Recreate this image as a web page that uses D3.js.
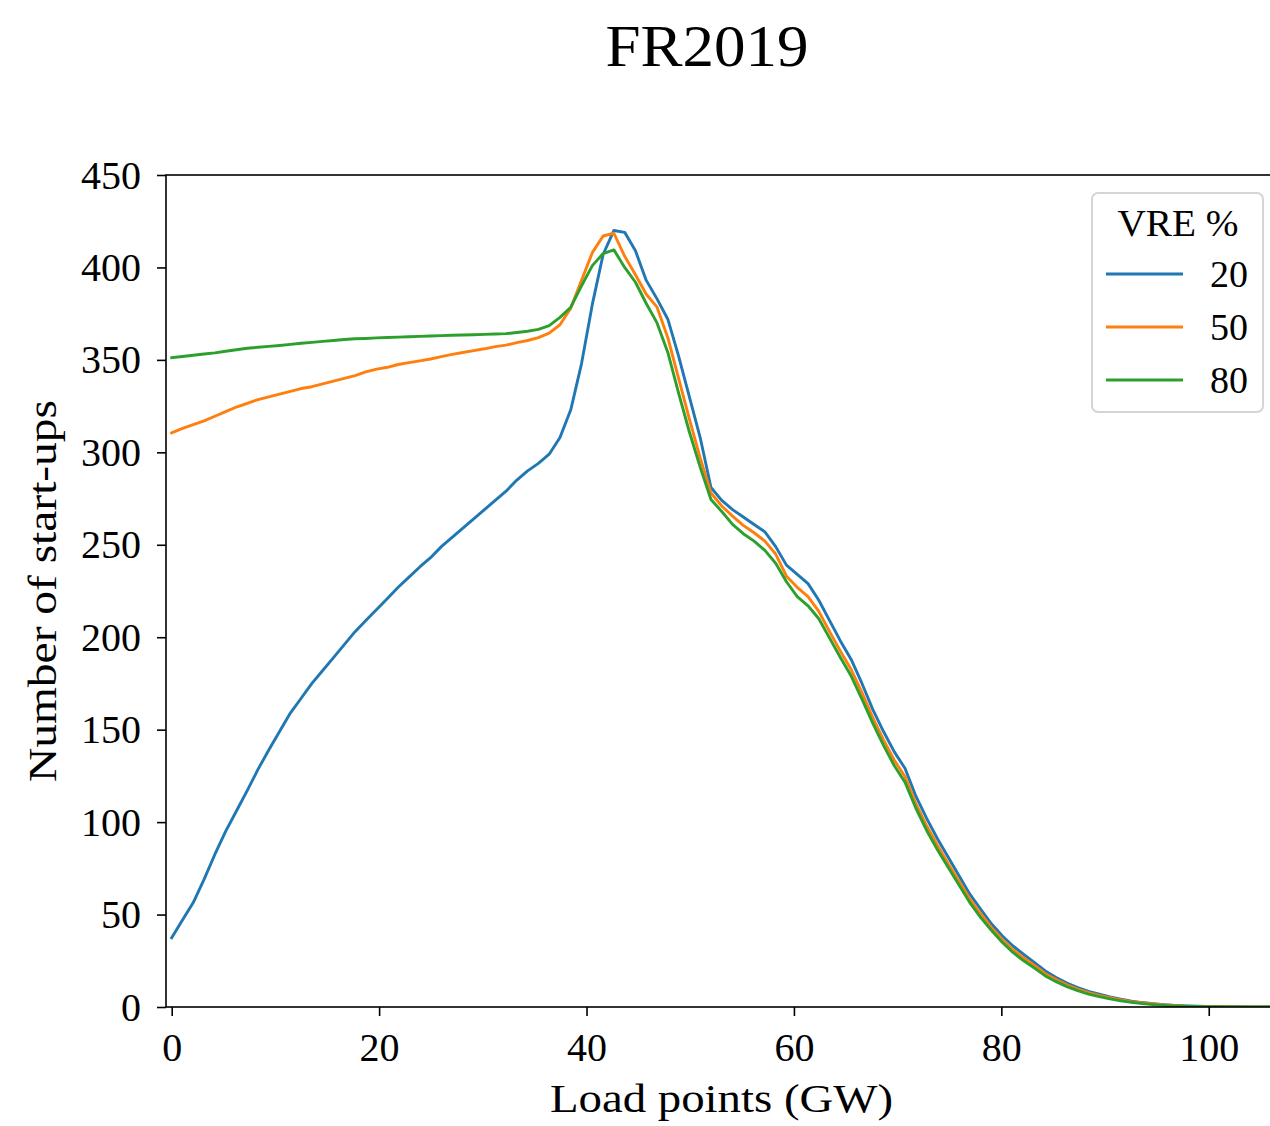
<!DOCTYPE html>
<html>
<head>
<meta charset="utf-8">
<script src="https://cdn.jsdelivr.net/npm/d3@7"></script>
<style>
  html, body { margin: 0; padding: 0; background: #fff; }
  svg { display: block; }
  text { font-family: "Liberation Serif", "DejaVu Serif", serif; fill: #000; }
</style>
</head>
<body>
<script>
// Load points (GW) at which start-ups were counted
const loadPoints = [
  0, 1.04, 2.08, 3.12, 4.16, 5.2, 6.24, 7.28, 8.32, 9.36,
  10.4, 11.44, 12.48, 13.52, 14.56, 15.6, 16.64, 17.68, 18.72, 19.76,
  20.8, 21.84, 22.88, 23.92, 24.96, 26, 27.04, 28.08, 29.12, 30.16,
  31.2, 32.24, 33.28, 34.32, 35.36, 36.4, 37.44, 38.48, 39.52, 40.56,
  41.6, 42.64, 43.68, 44.72, 45.76, 46.8, 47.84, 48.88, 49.92, 50.96,
  52, 53.04, 54.08, 55.12, 56.16, 57.2, 58.24, 59.28, 60.32, 61.36,
  62.4, 63.44, 64.48, 65.52, 66.56, 67.6, 68.64, 69.68, 70.72, 71.76,
  72.8, 73.84, 74.88, 75.92, 76.96, 78, 79.04, 80.08, 81.12, 82.16,
  83.2, 84.24, 85.28, 86.32, 87.36, 88.4, 89.44, 90.48, 91.52, 92.56,
  93.6, 94.64, 95.68, 96.72, 97.76, 98.8, 99.84, 100.88, 101.92, 102.96,
  104, 105.04, 106.08
];

// Start-ups per load point, VRE share 20 %
const vre20 = [
  37.5, 47, 56.5, 69, 82.5, 95, 106, 117, 128.5, 139,
  149, 159, 167, 175, 182, 189, 196, 203, 209, 215,
  221, 227, 232.5, 238, 243, 249, 254, 259, 264, 269,
  274, 279, 285, 290, 294, 299, 308, 323, 348, 380,
  407, 420, 419, 409, 393, 383, 372, 352, 330, 308,
  281, 274, 269, 265, 261, 257, 249, 239, 234, 229,
  220, 209, 198, 188, 175, 161, 149, 138, 129, 114,
  102, 91, 81, 71, 61, 53, 45, 38.5, 33, 28.5,
  24, 19.5, 16, 13, 10.5, 8.5, 7, 5.5, 4.2, 3.2,
  2.4, 1.8, 1.3, 0.9, 0.6, 0.4, 0.3, 0.2, 0.1, 0.1,
  0, 0, 0
];

// Start-ups per load point, VRE share 50 %
const vre50 = [
  310.5, 313, 315, 317, 319.5, 322, 324.5, 326.5, 328.5, 330,
  331.5, 333, 334.5, 335.5, 337, 338.5, 340, 341.5, 343.5, 345,
  346, 347.5, 348.5, 349.5, 350.5, 351.8, 353, 354, 355, 356,
  357.2, 358, 359.3, 360.5, 362, 364.5, 369, 378, 393, 408,
  417, 418.5, 406, 396, 385.5, 378.5, 362, 340, 318, 297,
  278, 271, 265.5, 260.5, 256.5, 252, 245, 233, 227, 222,
  214, 203, 192.5, 182.5, 170, 156.5, 144.5, 133.5, 124.5, 110,
  98, 87.5, 77.5, 68, 58.5, 50.5, 43, 36.5, 31, 26.5,
  22.5, 18, 14.8, 12, 9.7, 7.8, 6.3, 5, 3.8, 2.9,
  2.2, 1.6, 1.1, 0.8, 0.5, 0.35, 0.25, 0.15, 0.1, 0.05,
  0, 0, 0
];

// Start-ups per load point, VRE share 80 %
const vre80 = [
  351.2, 351.8, 352.5, 353.2, 353.8, 354.7, 355.5, 356.3, 356.8, 357.3,
  357.8, 358.4, 359, 359.5, 360, 360.5, 361, 361.4, 361.6, 361.9,
  362.1, 362.3, 362.5, 362.7, 362.9, 363.1, 363.3, 363.5, 363.6, 363.8,
  364, 364.2, 364.8, 365.5, 366.5, 368.5, 373, 378.5, 390, 401,
  407.5, 409.5, 400, 392, 380.5, 370, 354, 332, 311, 292,
  274.5, 268, 261, 256, 252, 247, 240, 230, 222, 217,
  210, 199.5, 189, 179, 166.5, 153.5, 141.5, 130.5, 121.5, 107.5,
  95.5, 85, 75.5, 66, 56.5, 48.5, 41.5, 35, 29.5, 25,
  21, 16.8, 13.7, 11, 8.8, 7, 5.6, 4.4, 3.3, 2.5,
  1.8, 1.3, 0.9, 0.6, 0.4, 0.25, 0.15, 0.1, 0.05, 0,
  0, 0, 0
];

const seriesNames = ["20", "50", "80"];
const seriesValues = [vre20, vre50, vre80];
const seriesColors = ["#1f77b4", "#ff7f0e", "#2ca02c"];
const xTicks = [0, 20, 40, 60, 80, 100];
const yTicks = [0, 50, 100, 150, 200, 250, 300, 350, 400, 450];

const W = 1270, H = 1126;
const plot = { left: 166, top: 175, right: 1272, bottom: 1007 };

const svg = d3.select("body").append("svg")
  .attr("width", W).attr("height", H);

const x = d3.scaleLinear().domain([-0.55, 106.1]).range([plot.left, plot.right]);
const y = d3.scaleLinear().domain([0, 450]).range([plot.bottom, plot.top]);

// title
svg.append("text")
  .attr("x", 707).attr("y", 66)
  .attr("text-anchor", "middle")
  .attr("textLength", 203).attr("lengthAdjust", "spacingAndGlyphs")
  .style("font-size", "60px")
  .text("FR2019");

// clip for the data lines
svg.append("defs").append("clipPath").attr("id", "plot-clip")
  .append("rect")
  .attr("x", plot.left).attr("y", plot.top)
  .attr("width", plot.right - plot.left).attr("height", plot.bottom - plot.top);

const line = d3.line()
  .x((d, i) => x(loadPoints[i]))
  .y(d => y(d));

const lines = svg.append("g").attr("clip-path", "url(#plot-clip)");
seriesValues.forEach((vals, k) => {
  lines.append("path")
    .datum(vals)
    .attr("d", line)
    .attr("fill", "none")
    .attr("stroke", seriesColors[k])
    .attr("stroke-width", 2.9)
    .attr("stroke-linejoin", "round")
    .attr("stroke-linecap", "square");
});

// axes
const xAxis = d3.axisBottom(x).tickValues(xTicks).tickSize(9).tickPadding(8).tickFormat(d3.format("d"));
const yAxis = d3.axisLeft(y).tickValues(yTicks).tickSize(9).tickPadding(16).tickFormat(d3.format("d"));

const gx = svg.append("g").attr("transform", `translate(0,${plot.bottom})`).call(xAxis);
const gy = svg.append("g").attr("transform", `translate(${plot.left},0)`).call(yAxis);

[gx, gy].forEach(g => {
  g.select(".domain").remove();
  g.selectAll(".tick line").attr("stroke", "#000").attr("stroke-width", 1.6);
  g.selectAll(".tick text")
    .style("font-size", "40px")
    .style("font-family", "'Liberation Serif', serif")
    .attr("fill", "#000");
});
gx.selectAll(".tick text").attr("y", 54).attr("dy", 0);
gy.selectAll(".tick text").attr("dy", 13);

// frame
svg.append("rect")
  .attr("x", plot.left).attr("y", plot.top)
  .attr("width", plot.right - plot.left).attr("height", plot.bottom - plot.top)
  .attr("fill", "none").attr("stroke", "#000").attr("stroke-width", 1.6);

// axis labels
svg.append("text")
  .attr("x", 721.5).attr("y", 1112)
  .attr("text-anchor", "middle")
  .attr("textLength", 343).attr("lengthAdjust", "spacingAndGlyphs")
  .style("font-size", "40px")
  .text("Load points (GW)");

svg.append("text")
  .attr("transform", `translate(56,591) rotate(-90)`)
  .attr("text-anchor", "middle")
  .attr("textLength", 382).attr("lengthAdjust", "spacingAndGlyphs")
  .style("font-size", "40px")
  .text("Number of start-ups");

// legend
const lg = svg.append("g").attr("transform", "translate(1092,193)");
lg.append("rect")
  .attr("x", 0).attr("y", 0).attr("width", 171).attr("height", 219)
  .attr("rx", 6).attr("ry", 6)
  .attr("fill", "#fff").attr("fill-opacity", 0.8)
  .attr("stroke", "#d5d5d5").attr("stroke-width", 2);

lg.append("text")
  .attr("x", 86).attr("y", 43)
  .attr("text-anchor", "middle")
  .attr("textLength", 121).attr("lengthAdjust", "spacingAndGlyphs")
  .style("font-size", "38px")
  .text("VRE %");

seriesNames.forEach((name, k) => {
  const cy = 81 + k * 53;
  lg.append("line")
    .attr("x1", 14).attr("x2", 91)
    .attr("y1", cy).attr("y2", cy)
    .attr("stroke", seriesColors[k]).attr("stroke-width", 2.9);
  lg.append("text")
    .attr("x", 156).attr("y", cy)
    .attr("dy", 13)
    .attr("text-anchor", "end")
    .style("font-size", "38px")
    .text(name);
});
</script>
</body>
</html>
